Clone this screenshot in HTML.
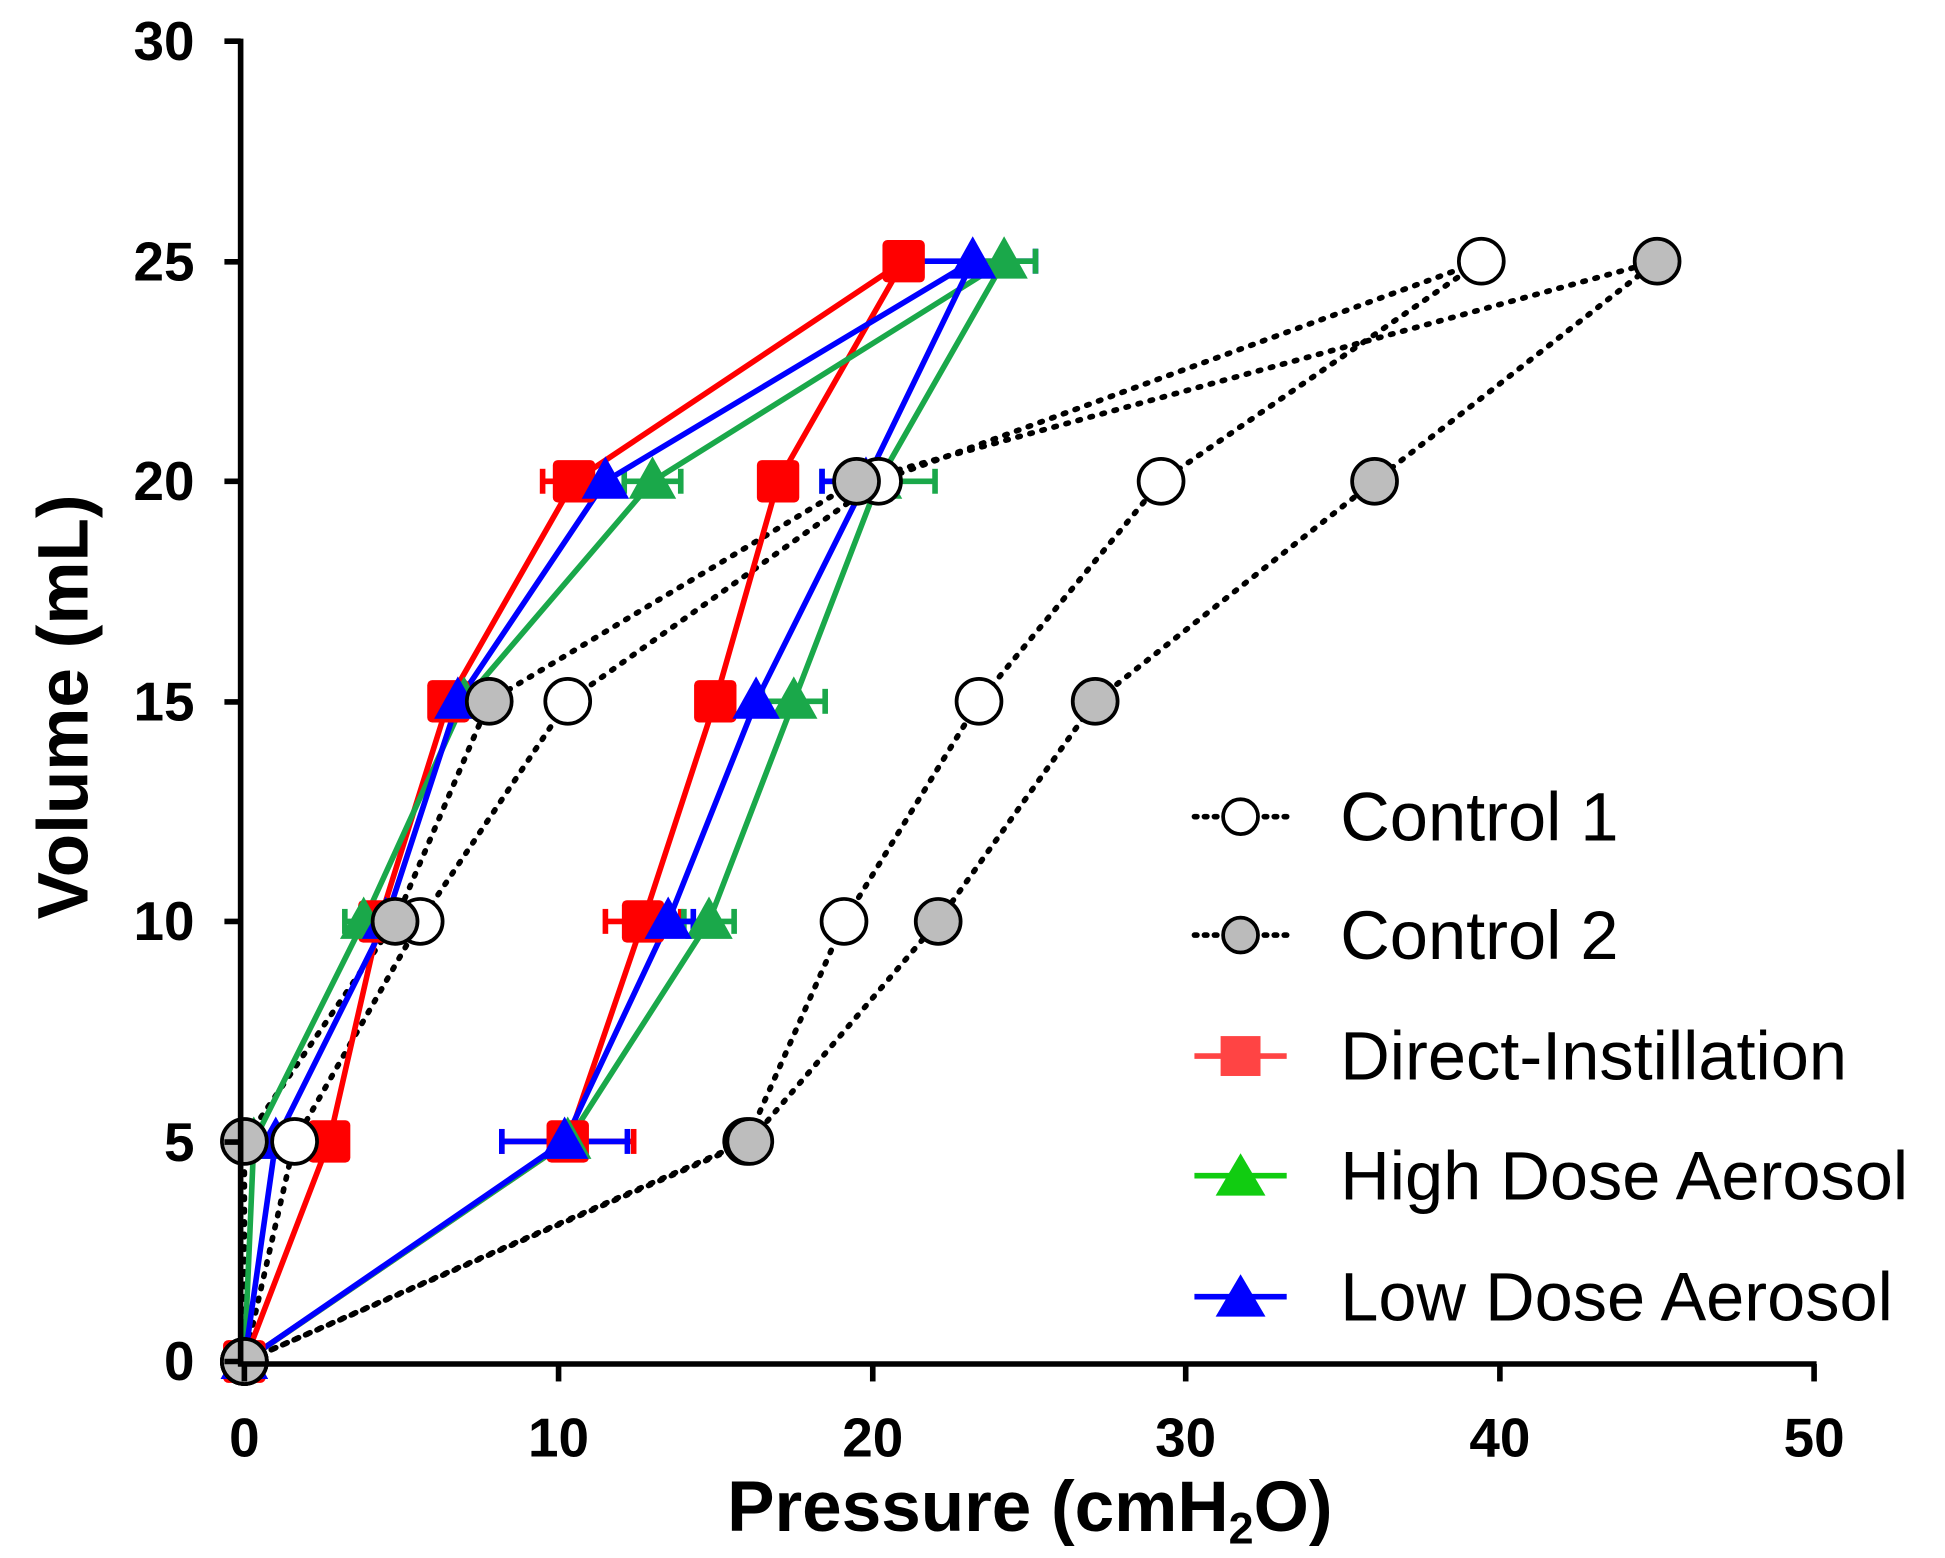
<!DOCTYPE html>
<html><head><meta charset="utf-8"><style>
html,body{margin:0;padding:0;background:#fff}
svg{display:block}
text{font-family:"Liberation Sans",Arial,sans-serif}
</style></head><body>
<svg id="s" width="1945" height="1558" viewBox="0 0 1560 1249.6" preserveAspectRatio="none" xmlns="http://www.w3.org/2000/svg">
<g id="plot"></g>
<g stroke="#000" stroke-width="4.5" fill="none">
<line x1="193" y1="31" x2="193" y2="1096"/>
<line x1="191" y1="1094" x2="1457" y2="1094"/>
<line x1="180" y1="33" x2="193" y2="33"/>
<line x1="180" y1="210" x2="193" y2="210"/>
<line x1="180" y1="386" x2="193" y2="386"/>
<line x1="180" y1="563" x2="193" y2="563"/>
<line x1="180" y1="739" x2="193" y2="739"/>
<line x1="180" y1="916" x2="193" y2="916"/>
<line x1="180" y1="1092" x2="193" y2="1092"/>
<line x1="196" y1="1094" x2="196" y2="1108"/>
<line x1="448" y1="1094" x2="448" y2="1108"/>
<line x1="700" y1="1094" x2="700" y2="1108"/>
<line x1="951" y1="1094" x2="951" y2="1108"/>
<line x1="1203" y1="1094" x2="1203" y2="1108"/>
<line x1="1455" y1="1094" x2="1455" y2="1108"/>
</g>
<g font-size="44" font-weight="bold" text-anchor="end" fill="#000">
<text x="156" y="48">30</text><text x="156" y="225">25</text><text x="156" y="401">20</text>
<text x="156" y="578">15</text><text x="156" y="754">10</text><text x="156" y="931">5</text><text x="156" y="1107">0</text>
</g>
<g font-size="44" font-weight="bold" text-anchor="middle" fill="#000">
<text x="196" y="1168">0</text><text x="448" y="1168">10</text><text x="700" y="1168">20</text>
<text x="951" y="1168">30</text><text x="1203" y="1168">40</text><text x="1455" y="1168">50</text>
</g>
<text x="826" y="1228" font-size="57" font-weight="bold" text-anchor="middle">Pressure (cmH<tspan font-size="36" dy="10">2</tspan><tspan dy="-10">O)</tspan></text>
<text transform="translate(70,567) rotate(-90)" font-size="57" font-weight="bold" text-anchor="middle">Volume (mL)</text>
<g stroke-width="4.5">
<line x1="958" y1="655" x2="1032" y2="655" stroke="#000" stroke-dasharray="2,6" stroke-linecap="round"/>
<circle cx="995" cy="655" r="14" fill="#fff" stroke="#000" stroke-width="3"/>
<line x1="958" y1="750" x2="1032" y2="750" stroke="#000" stroke-dasharray="2,6" stroke-linecap="round"/>
<circle cx="995" cy="750" r="14" fill="#bbb" stroke="#000" stroke-width="3"/>
<line x1="958" y1="847" x2="1032" y2="847" stroke="#f44"/>
<rect x="979" y="831" width="32" height="32" fill="#f44"/>
<line x1="958" y1="943" x2="1032" y2="943" stroke="#1c1"/>
<polygon points="995,925 1015,959 975,959" fill="#1c1"/>
<line x1="958" y1="1040" x2="1032" y2="1040" stroke="#00f"/>
<polygon points="995,1022 1015,1056 975,1056" fill="#00f"/>
</g>
<g font-size="55" fill="#000">
<text x="1075" y="674">Control 1</text>
<text x="1075" y="769">Control 2</text>
<text x="1075" y="866">Direct-Instillation</text>
<text x="1075" y="962">High Dose Aerosol</text>
<text x="1075" y="1059">Low Dose Aerosol</text>
</g>
</svg>
<script>
var NS="http://www.w3.org/2000/svg",g=document.getElementById("plot");
function X(p){return 196+p*25.18}function Y(v){return 1092-v*35.3}
function el(t,a){var e=document.createElementNS(NS,t);for(var k in a)e.setAttribute(k,a[k]);g.appendChild(e);return e}
function line(pts,col,dot){el("polyline",{points:pts.map(function(p){return X(p[0])+","+Y(p[1])}).join(" "),fill:"none",stroke:col,"stroke-width":dot?4.5:4.5,"stroke-dasharray":dot?"2,8":"none","stroke-linecap":"round","stroke-linejoin":"round"})}
function eb(p,v,e,col){var y=Y(v);el("line",{x1:X(p-e),y1:y,x2:X(p+e),y2:y,stroke:col,"stroke-width":4.5});
[p-e,p+e].forEach(function(q){el("line",{x1:X(q),y1:y-10,x2:X(q),y2:y+10,stroke:col,"stroke-width":4.5})})}
var R="#f00",G="#1aa84a",B="#00f";
var c1=[[0,0],[1.6,5],[5.6,10],[10.3,15],[20.2,20],[39.4,25],[29.2,20],[23.4,15],[19.1,10],[16,5],[0,0]];
var c2=[[0,0],[0,5],[4.8,10],[7.8,15],[19.5,20],[45,25],[36,20],[27.1,15],[22.1,10],[16.1,5],[0,0]];
var dr=[[0,0],[2.7,5],[4.3,10],[6.5,15],[10.5,20],[21,25],[17,20],[15,15],[12.7,10],[10.3,5],[0,0]];
var hi=[[0,0],[0.3,5],[3.8,10],[7,15],[13,20],[24.2,25],[20.2,20],[17.5,15],[14.8,10],[10.3,5],[0,0]];
var lo=[[0,0],[1,5],[4.5,10],[6.8,15],[11.5,20],[23.2,25],[19.8,20],[16.3,15],[13.5,10],[10.2,5],[0,0]];
eb(10.3,5,2.1,R);eb(10.2,5,2,B);eb(12.7,10,1.2,R);eb(14.8,10,0.8,G);eb(13.5,10,0.8,B);
eb(17.5,15,1,G);eb(13,20,0.9,G);eb(10.5,20,1,R);eb(20.2,20,1.8,G);eb(19.6,20,1.2,B);eb(23.2,25,2,B);eb(24.2,25,1,G);eb(3.8,10,0.6,G);
line(c1,"#000",1);line(c2,"#000",1);line(dr,R);line(hi,G);line(lo,B);
function sq(p,v){el("rect",{x:X(p)-17,y:Y(v)-17,width:34,height:34,rx:4,fill:R})}
function tri(p,v,c){var x=X(p),y=Y(v);el("polygon",{points:x+","+(y-20)+" "+(x+19)+","+(y+14)+" "+(x-19)+","+(y+14),fill:c})}
function circ(p,v,f){el("circle",{cx:X(p),cy:Y(v),r:18,fill:f,stroke:"#000","stroke-width":3})}
dr.forEach(function(d){sq(d[0],d[1])});
hi.forEach(function(d){tri(d[0],d[1],G)});
lo.forEach(function(d){tri(d[0],d[1],B)});
c1.forEach(function(d){circ(d[0],d[1],"#fff")});
c2.forEach(function(d){circ(d[0],d[1],"#bdbdbd")});
</script>
</body></html>
